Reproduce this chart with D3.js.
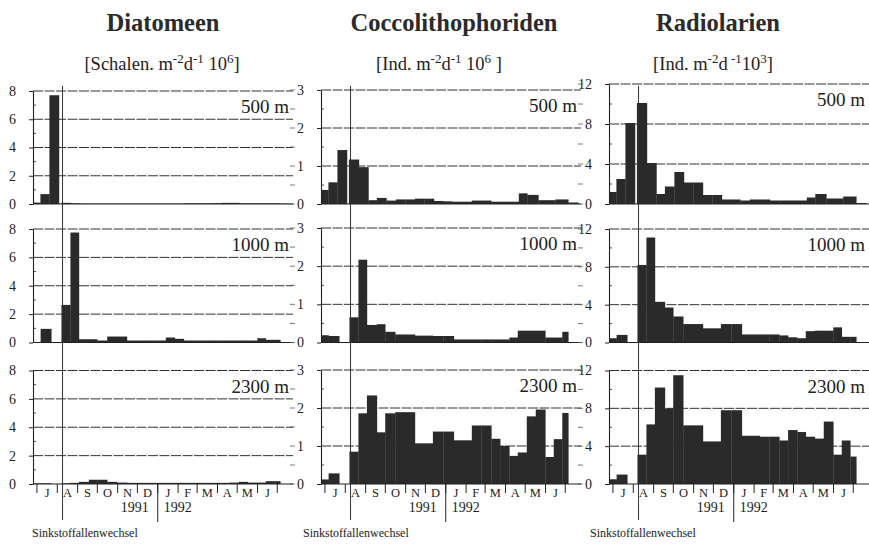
<!DOCTYPE html>
<html><head><meta charset="utf-8">
<script src="https://cdn.jsdelivr.net/npm/d3@7"></script>
<style>
body{margin:0;background:#fff}
svg{display:block;font-family:"Liberation Serif","Times New Roman",serif}
text{font-family:"Liberation Serif","Times New Roman",serif;fill:#222}
</style>
</head><body>
<svg id="c" width="869" height="544"></svg>
<script>
// ---------- data ----------
const groups = ["Diatomeen", "Coccolithophoriden", "Radiolarien"];
const unitParts = [
  ["[Schalen. m", "-2", "d", "-1", " 10", "6", "]"],
  ["[Ind. m", "-2", "d", "-1", " 10", "6", " ]"],
  ["[Ind. m", "-2", "d", " -1", "10", "3", "]"]
];
const depths = ["500 m", "1000 m", "2300 m"];
const yMax = [8, 3, 12];
const yTicks = [[0, 2, 4, 6, 8], [0, 1, 2, 3], [0, 4, 8, 12]];
const monthLabels = ["J", "A", "S", "O", "N", "D", "J", "F", "M", "A", "M", "J"];
const yearLabels = ["1991", "1992"];
const trapLabel = "Sinkstoffallenwechsel";
const trapChangeDay = 39;          // days after 1 Jul 1991
// sampling intervals, days after 1 Jul 1991 (bin edges)
const edges500Pre  = [-6, 5.3, 19, 33.5];
const edges500Post = [36.5, 51.7, 66.2, 79.1, 93.6, 108.1, 122.5, 137, 151.4, 165.9, 179.6, 194.1, 208.5,
                      223.7, 239, 253.4, 267.9, 281.6, 295.3, 308.2, 325, 337.9, 350.8, 370.6, 385.8];
const edgesDeepPre  = [-6, 5.6, 21.8];
const edgesDeepPost = [37.3, 51, 63.9, 79.1, 91.8, 107, 121.8, 137, 150.7, 164.4, 180.4, 196.3, 210,
                       223.7, 238.2, 253.4, 266.8, 280.8, 293.7, 307.4, 321.1, 335.6, 348.5, 361.5, 370.6];
// fluxes per sampling interval (pre-change bins first)
const diat500  = [0.1, 0.7, 7.7,
  0.08, 0.05, 0.03, 0.03, 0.03, 0.03, 0.03, 0.03, 0.03, 0.03, 0.03, 0.03, 0.03, 0.05, 0.05, 0.05, 0.06, 0.08, 0.08, 0.05, 0.05, 0.05, 0.05, 0.03];
const cocco500 = [0.37, 0.57, 1.42,
  1.17, 0.97, 0.1, 0.16, 0.09, 0.12, 0.12, 0.14, 0.14, 0.08, 0.07, 0.06, 0.06, 0.09, 0.09, 0.06, 0.06, 0.06, 0.28, 0.24, 0.1, 0.1, 0.12, 0.04];
const radio500 = [1.2, 2.5, 8.1,
  10.1, 4.1, 1.0, 1.75, 3.2, 2.15, 2.15, 0.9, 0.9, 0.45, 0.45, 0.35, 0.45, 0.45, 0.35, 0.35, 0.35, 0.35, 0.65, 1.0, 0.55, 0.55, 0.75, 0.1];
const diat1000  = [0, 0.96,
  2.65, 7.75, 0.23, 0.23, 0.14, 0.42, 0.42, 0.14, 0.14, 0.14, 0.14, 0.35, 0.26, 0.14, 0.14, 0.14, 0.14, 0.14, 0.14, 0.14, 0.14, 0.3, 0.19, 0.19];
const cocco1000 = [0.19, 0.17,
  0.66, 2.17, 0.46, 0.48, 0.28, 0.21, 0.21, 0.18, 0.18, 0.17, 0.17, 0.08, 0.08, 0.08, 0.08, 0.08, 0.08, 0.13, 0.31, 0.31, 0.31, 0.13, 0.13, 0.28];
const radio1000 = [0.45, 0.8,
  8.2, 11.1, 4.3, 3.7, 2.75, 1.95, 1.95, 1.5, 1.5, 1.95, 1.95, 0.85, 0.85, 0.85, 0.85, 0.75, 0.55, 0.45, 1.2, 1.25, 1.25, 1.6, 0.6, 0.6];
const diat2300  = [0.05, 0.05,
  0.05, 0.08, 0.15, 0.3, 0.3, 0.15, 0.1, 0.08, 0.08, 0.08, 0.08, 0.08, 0.08, 0.08, 0.08, 0.08, 0.08, 0.08, 0.1, 0.15, 0.1, 0.1, 0.2, 0.2];
const cocco2300 = [0.12, 0.28,
  0.85, 1.86, 2.33, 1.36, 1.86, 1.89, 1.89, 1.07, 1.07, 1.38, 1.38, 1.15, 1.15, 1.54, 1.54, 1.19, 1.0, 0.74, 0.83, 1.78, 1.96, 0.71, 1.18, 1.87];
const radio2300 = [0.5, 1.0,
  3.1, 6.3, 10.2, 8.0, 11.5, 6.2, 6.2, 4.5, 4.5, 7.8, 7.8, 5.1, 5.1, 5.0, 5.0, 4.6, 5.7, 5.5, 5.0, 4.8, 6.6, 3.1, 4.6, 2.9];

// ---------- layout ----------
const FONT = '"Liberation Serif","Times New Roman",serif';
const svg = d3.select("#c");
const colX = [0, 288, 576];
const rowTop = [[91, 90, 84], [229, 228, 229], [370.5, 370, 370.5]];
const rowBottom = [204, 342.5, 484];
const titleX = [163, 454, 718];
const unitX = [162, 439, 713];
const trapLabelX = [32, 15, 14];
const ink = "#222";

const origin = Date.UTC(1991, 6, 1);
const day = n => new Date(origin + n * 864e5);
const x = d3.scaleUtc().domain([day(-6), day(390)]).range([33, 293]);

const pairs = e => d3.pairs(e);
const rows = [
  {bins: pairs(edges500Pre).concat(pairs(edges500Post)), vals: [diat500, cocco500, radio500]},
  {bins: pairs(edgesDeepPre).concat(pairs(edgesDeepPost)), vals: [diat1000, cocco1000, radio1000]},
  {bins: pairs(edgesDeepPre).concat(pairs(edgesDeepPost)), vals: [diat2300, cocco2300, radio2300]}
];

// titles
groups.forEach((g, c) => {
  svg.append("text").attr("x", titleX[c]).attr("y", 31).attr("text-anchor", "middle")
    .attr("font-family", FONT).attr("font-size", 24.5).attr("font-weight", "bold")
    .style("fill", "#2b2b2b").text(g);
  const t = svg.append("text").attr("x", unitX[c]).attr("y", 70).attr("text-anchor", "middle")
    .attr("font-family", FONT).attr("font-size", 18.5);
  const p = unitParts[c];
  t.append("tspan").text(p[0]);
  t.append("tspan").attr("dy", -7).attr("font-size", 13).text(p[1]);
  t.append("tspan").attr("dy", 7).text(p[2]);
  t.append("tspan").attr("dy", -7).attr("font-size", 13).text(p[3]);
  t.append("tspan").attr("dy", 7).text(p[4]);
  t.append("tspan").attr("dy", -7).attr("font-size", 13).text(p[5]);
  t.append("tspan").attr("dy", 7).text(p[6]);
});

const months = d3.utcMonth.range(Date.UTC(1991, 6, 1), Date.UTC(1992, 7, 1));
const newYear = new Date(Date.UTC(1992, 0, 1));

rows.forEach((row, r) => {
  const bottom = rowBottom[r];
  for (let c = 0; c < 3; c++) {
    const top = rowTop[r][c];
    const g = svg.append("g").attr("transform", `translate(${colX[c]},0)`);
    const y = d3.scaleLinear().domain([0, yMax[c]]).range([bottom, top]);
    const step = yTicks[c][1];
    const minor = d3.range(step / 2, yMax[c], step);

    // grid lines
    g.selectAll(".grid").data(yTicks[c].filter(t => t > 0)).join("line")
      .attr("x1", 33).attr("x2", 293).attr("y1", d => y(d)).attr("y2", d => y(d))
      .attr("stroke", "#333").attr("stroke-width", 1).attr("stroke-dasharray", "10,1.5");

    // bars
    const data = row.bins.map((b, i) => ({x0: b[0], x1: b[1], v: row.vals[c][i]}));
    g.selectAll(".bar").data(data).join("rect")
      .attr("x", d => x(day(d.x0)))
      .attr("width", d => x(day(d.x1)) - x(day(d.x0)) + 0.3)
      .attr("y", d => y(d.v))
      .attr("height", d => bottom - y(d.v))
      .attr("fill", "#2a2a2a");

    // y axis
    const ax = g.append("g").attr("transform", "translate(33,0)")
      .call(d3.axisLeft(y).tickValues(yTicks[c]).tickSize(4).tickSizeOuter(0).tickPadding(13).tickFormat(d3.format("d")));
    ax.attr("font-family", FONT);
    ax.select(".domain").attr("stroke", ink).attr("stroke-width", 1.1);
    ax.selectAll(".tick line").attr("stroke", ink);
    ax.selectAll(".tick text").attr("font-size", 14).attr("fill", ink).attr("font-family", FONT);
    ax.selectAll(".minor").data(minor).join("line")
      .attr("x1", 0).attr("x2", 3).attr("y1", d => y(d)).attr("y2", d => y(d))
      .attr("stroke", ink).attr("stroke-width", 0.8);
    if (c > 0) {
      g.selectAll(".dash").data(d3.range(0, yMax[c] + 1e-9, step / 2)).join("line")
        .attr("x1", 2).attr("x2", 7).attr("y1", d => y(d)).attr("y2", d => y(d))
        .attr("stroke", "#555").attr("stroke-width", 0.8);
    }

    // baseline
    g.append("line").attr("x1", 33).attr("x2", 293).attr("y1", bottom).attr("y2", bottom)
      .attr("stroke", ink).attr("stroke-width", 1.2);

    // depth label
    g.append("text").attr("x", 289).attr("y", top + 22).attr("text-anchor", "end")
      .attr("font-family", FONT).attr("font-size", 19).text(depths[r]);

    if (r === 2) {
      // month ticks and labels
      g.selectAll(".mt").data(months).join("line")
        .attr("x1", d => x(d)).attr("x2", d => x(d)).attr("y1", bottom).attr("y2", bottom + 9)
        .attr("stroke", ink).attr("stroke-width", 1);
      g.selectAll(".ml").data(months.slice(0, 12)).join("text")
        .attr("x", (d, i) => (x(d) + x(months[i + 1])) / 2).attr("y", bottom + 12.5)
        .attr("text-anchor", "middle").attr("font-family", FONT).attr("font-size", 12.5)
        .text((d, i) => monthLabels[i]);
      // year divider
      g.append("line").attr("x1", x(newYear)).attr("x2", x(newYear))
        .attr("y1", bottom).attr("y2", 522).attr("stroke", ink).attr("stroke-width", 1);
      g.append("text").attr("x", x(newYear) - 9).attr("y", 512).attr("text-anchor", "end")
        .attr("font-family", FONT).attr("font-size", 14).text(yearLabels[0]);
      g.append("text").attr("x", x(newYear) + 6).attr("y", 512).attr("text-anchor", "start")
        .attr("font-family", FONT).attr("font-size", 14).text(yearLabels[1]);
    }
  }
});

// trap-change line + label
for (let c = 0; c < 3; c++) {
  const g = svg.append("g").attr("transform", `translate(${colX[c]},0)`);
  g.append("line").attr("x1", x(day(trapChangeDay))).attr("x2", x(day(trapChangeDay)))
    .attr("y1", 86).attr("y2", 520).attr("stroke", "#333").attr("stroke-width", 1);
  g.append("text").attr("x", trapLabelX[c]).attr("y", 537).attr("font-family", FONT)
    .attr("font-size", 12).text(trapLabel);
}
</script>
</body></html>
